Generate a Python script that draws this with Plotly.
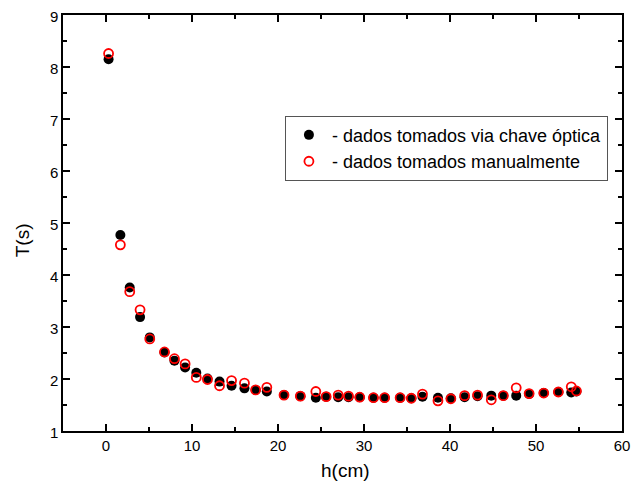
import plotly.graph_objects as go

# Data
h_chave = [0.3, 1.67, 2.76, 3.96, 5.09, 6.8, 7.96, 9.2, 10.5, 11.8, 13.2, 14.6, 16.1, 17.4, 18.7,
           20.7, 22.6, 24.4, 25.6, 27.0, 28.2, 29.5, 31.1, 32.4, 34.2, 35.5, 36.8, 38.6, 40.1,
           41.7, 43.2, 44.8, 46.2, 47.7, 49.2, 50.9, 52.6, 54.1, 54.7]
T_chave = [8.15, 4.77, 3.76, 3.19, 2.80, 2.51, 2.35, 2.22, 2.12, 2.01, 1.95, 1.87, 1.82, 1.79, 1.76,
           1.69, 1.67, 1.64, 1.66, 1.65, 1.65, 1.65, 1.64, 1.64, 1.64, 1.63, 1.66, 1.64, 1.63,
           1.65, 1.67, 1.68, 1.68, 1.68, 1.71, 1.73, 1.75, 1.74, 1.76]

h_manual = [0.3, 1.67, 2.76, 3.96, 5.09, 6.8, 7.96, 9.2, 10.5, 11.8, 13.2, 14.6, 16.1, 17.4, 18.7,
            20.7, 22.6, 24.4, 25.6, 27.0, 28.2, 29.5, 31.1, 32.4, 34.2, 35.5, 36.8, 38.6, 40.1,
            41.7, 43.2, 44.8, 46.2, 47.7, 49.2, 50.9, 52.6, 54.1, 54.7]
T_manual = [8.26, 4.58, 3.68, 3.33, 2.77, 2.52, 2.39, 2.29, 2.03, 1.99, 1.87, 1.97, 1.92, 1.79, 1.84,
            1.69, 1.67, 1.76, 1.66, 1.69, 1.67, 1.65, 1.64, 1.64, 1.64, 1.63, 1.71, 1.58, 1.62,
            1.68, 1.69, 1.60, 1.68, 1.83, 1.72, 1.73, 1.75, 1.85, 1.77]

x_ticks = [0, 10, 20, 30, 40, 50, 60]
y_ticks = [1, 2, 3, 4, 5, 6, 7, 8, 9]
x_title = "h(cm)"
y_title = "T(s)"

FONT = "Liberation Sans, Arial"

fig = go.Figure()
fig.add_trace(go.Scatter(
    x=h_chave, y=T_chave, mode="markers",
    name="- dados tomados via chave óptica",
    marker=dict(symbol="circle", size=10, color="black", line=dict(width=0)),
))
fig.add_trace(go.Scatter(
    x=h_manual, y=T_manual, mode="markers",
    name="- dados tomados manualmente",
    marker=dict(symbol="circle-open", size=9, color="#ff0000", line=dict(width=1.8, color="#ff0000")),
))

axis_common = dict(
    showline=True, linecolor="black", linewidth=1.5, mirror="allticks",
    ticks="inside", ticklen=7, tickwidth=1.5, tickcolor="black",
    showgrid=False, zeroline=False, automargin=False, ticklabeloverflow="allow",
    tickfont=dict(family=FONT, size=15, color="black"),
)

fig.update_xaxes(
    range=[-5, 60], tickvals=x_ticks, ticktext=[str(v) for v in x_ticks],
    minor=dict(ticks="inside", dtick=5, tick0=0, ticklen=4, tickwidth=1.5, tickcolor="black"),
    **axis_common,
)
fig.update_yaxes(
    range=[1, 9], tickvals=y_ticks, ticktext=[str(v) for v in y_ticks],
    ticklabelshift=2,
    minor=dict(ticks="inside", dtick=0.5, tick0=0, ticklen=4, tickwidth=1.5, tickcolor="black"),
    **axis_common,
)

fig.add_annotation(text=x_title, xref="paper", yref="paper", x=0.506, y=-0.094,
                   xanchor="center", yanchor="middle", showarrow=False,
                   font=dict(family=FONT, size=19, color="black"))
fig.add_annotation(text=y_title, xref="paper", yref="paper", x=-0.073, y=0.459,
                   xanchor="center", yanchor="middle", showarrow=False, textangle=-90,
                   font=dict(family=FONT, size=19, color="black"))

fig.update_layout(
    width=640, height=491,
    margin=dict(l=63, r=18, t=15, b=60),
    paper_bgcolor="white", plot_bgcolor="white",
    font=dict(family=FONT, color="black"),
    legend=dict(
        x=0.397, y=0.758, xanchor="left", yanchor="top",
        bgcolor="white", bordercolor="#555555", borderwidth=1,
        font=dict(family=FONT, size=18, color="black"),
        tracegroupgap=0, itemwidth=36,
    ),
)

fig.write_html("out.html", config={"displayModeBar": False},
               post_script="document.body.style.margin='0px';")
